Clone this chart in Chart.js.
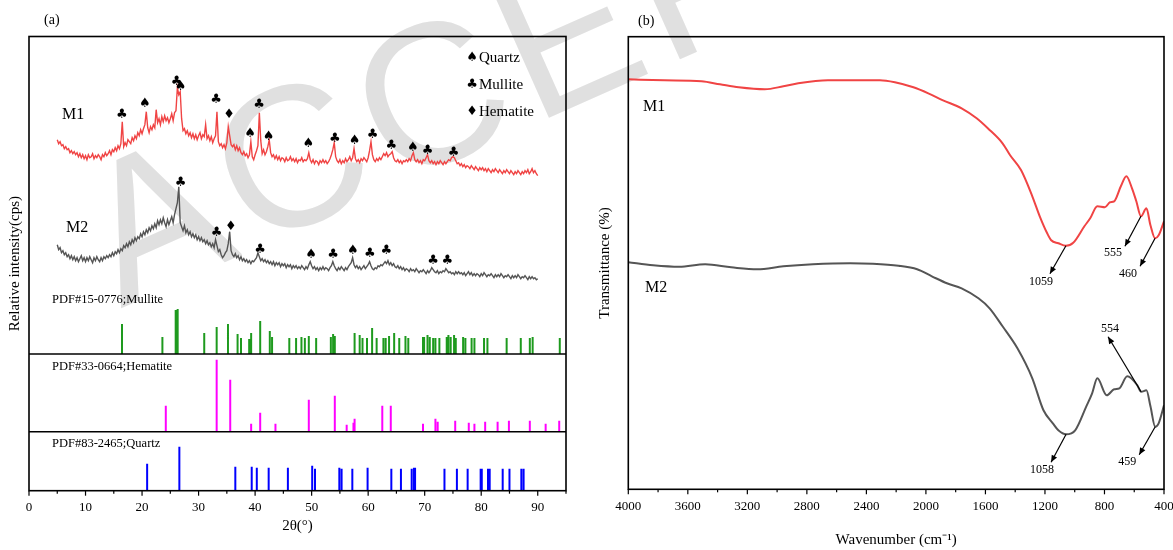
<!DOCTYPE html>
<html lang="en">
<head>
<meta charset="UTF-8" />
<title>XRD and FTIR of M1 / M2</title>
<script src="https://cdn.jsdelivr.net/npm/chart.js"></script>
<style>
  body { margin: 0; background: #fff; }
  #page { position: relative; width: 1173px; height: 550px; overflow: hidden; }
  #stamp {
    position: absolute; left: 52px; top: 154px;
    font: 200px "Liberation Sans", sans-serif; line-height: 1; letter-spacing: 10px;
    color: #e0e0e0; white-space: nowrap;
    transform-origin: 0 0; transform: rotate(-24deg);
  }
  canvas { position: absolute; top: 0; }
  #xrd { left: 0; }
  #ftir { left: 586px; }
</style>
</head>
<body>
<div id="page">
  <div id="stamp">ACCEPTED</div>
  <canvas id="xrd" width="586" height="550"></canvas>
  <canvas id="ftir" width="587" height="550"></canvas>
</div>

<script>
  // ---- XRD patterns, 2θ from 5° to 90° in 0.25° steps ----
  const xrdStart = 5;
  const xrdStep = 0.25;

  const m1Counts = [
    351,347,349,345, 346,342,344,341, 342,338,340,337, 339,336,338,334, 337,333,336,332,
    335,331,336,333, 334,337,332,335, 333,336,334,331, 336,334,338,335, 337,340,336,341,
    339,343,340,345, 342,347,369,344, 348,345,351,349, 347,353,350,355, 352,358,355,361,
    357,362,366,379, 363,358,364,361, 366,363,381,368, 372,366,374,369, 375,370,373,368,
    372,377,370,378, 380,403,396,399, 372,360,362,357, 360,355,358,353, 357,352,356,351,
    355,358,352,356, 354,366,352,355, 350,354,348,352, 355,379,349,345, 347,343,346,342,
    348,364,355,346, 344,346,341,345, 340,343,338,336, 339,335,337,333, 336,349,334,331,
    336,340,345,378, 350,337,341,336, 339,344,351,338, 334,336,332,335, 331,334,330,333,
    332,329,333,330, 331,334,330,332, 329,332,328,331, 330,333,329,331, 330,332,338,331,
    328,331,327,330, 329,326,330,328, 331,328,330,327, 329,332,336,341, 348,334,330,328,
    331,327,330,328, 332,329,331,334, 330,333,342,332, 329,331,328,332, 330,333,331,329,
    333,340,349,336, 331,329,332,330, 333,331,334,337, 335,338,334,336, 337,339,333,330,
    329,331,328,330, 327,330,329,331, 329,332,330,335, 338,331,329,331, 328,330,327,331,
    330,333,336,330, 328,330,327,329, 326,329,327,330, 328,326,329,327, 329,331,330,333,
    334,333,330,327, 328,325,327,324, 326,323,325,324, 322,325,323,321, 324,322,320,323,
    321,323,320,322, 319,322,320,318, 321,319,322,320, 318,321,319,317, 320,318,321,319,
    317,320,318,316, 319,317,320,318, 316,319,317,320, 318,321,317,319, 322,318,320,317,
    315
  ];

  const m2Counts = [
    246,241,243,238, 240,236,238,234, 236,232,235,231, 234,230,233,229, 232,235,230,233,
    229,233,230,234, 231,228,233,230, 234,231,229,233, 230,234,232,235, 233,236,234,238,
    235,239,237,241, 238,242,240,245, 243,247,244,249, 246,251,248,253, 250,254,252,257,
    254,259,256,261, 258,263,260,265, 262,267,263,270, 266,271,267,273, 268,264,271,266,
    270,274,268,276, 282,288,304,268, 264,260,265,258, 261,256,259,254, 257,253,256,251,
    254,250,253,249, 251,247,250,246, 248,244,247,243, 251,245,239,241, 236,233,235,238,
    240,247,259,240, 236,234,237,233, 235,231,234,230, 232,229,231,228, 230,227,230,229,
    231,233,238,234, 230,232,229,231, 228,230,227,229, 226,229,225,228, 226,228,224,227,
    225,227,223,226, 224,226,222,225, 223,225,222,224, 222,225,223,221, 224,222,226,229,
    225,222,224,221, 223,220,223,221, 224,221,223,222, 220,223,225,229, 225,222,220,223,
    221,224,222,220, 223,221,224,226, 228,233,226,223, 225,222,224,221, 223,225,222,224,
    226,229,225,222, 221,223,222,225, 224,226,225,227, 229,227,230,226, 228,225,227,224,
    223,225,222,224, 221,223,220,222, 221,219,222,220, 221,219,222,220, 218,220,219,221,
    219,217,220,218, 220,223,221,219, 218,220,217,219, 218,220,219,222, 220,218,219,217,
    218,216,219,217, 219,217,218,216, 218,215,217,219, 216,218,215,217, 215,217,216,214,
    217,215,218,216, 214,216,215,217, 215,213,216,214, 216,214,217,215, 213,215,214,216,
    214,212,215,213, 215,213,216,214, 212,214,213,215, 213,211,214,212, 214,212,213,211,
    212
  ];

  // phase marks over the peaks: [2θ, height, symbol]
  const m1Marks = [
    [16.4,376,'♣'], [20.5,387,'♠'], [26.1,409,'♣'], [26.8,404,'♠'], [33.1,391,'♣'],
    [35.4,376,'♦'], [39.1,357,'♠'], [40.7,386,'♣'], [42.4,354,'♠'], [49.4,347,'♠'],
    [54.1,352,'♣'], [57.6,350,'♠'], [60.8,356,'♣'], [64.1,345,'♣'], [67.9,343,'♠'],
    [70.5,340,'♣'], [75.1,338,'♣']
  ];
  const m2Marks = [
    [26.8,308,'♣'], [33.2,258,'♣'], [35.7,264,'♦'], [40.9,241,'♣'], [49.9,236,'♠'],
    [53.8,236,'♣'], [57.3,240,'♠'], [60.3,237,'♣'], [63.2,240,'♣'], [71.5,230,'♣'],
    [74.0,230,'♣']
  ];

  // standard cards: [2θ, relative height]
  const mulliteCard = [
    [16.45,30],[23.6,17],[25.95,44],[26.3,45],[31.0,21],[33.2,27],[35.2,30],[36.9,20],
    [37.5,16],[38.95,15],[39.3,21],[40.9,33],[42.6,23],[43.0,17],[46.05,16],[47.25,16],
    [48.2,17],[48.8,16],[49.5,18],[50.8,16],[53.4,17],[53.8,20],[54.1,18],[57.6,21],
    [58.5,19],[59.0,16],[59.8,16],[60.7,26],[61.5,16],[62.7,16],[63.1,16],[63.7,18],
    [64.6,21],[65.5,16],[66.6,18],[67.1,16],[69.7,17],[69.9,17],[70.5,19],[70.9,17],
    [71.5,16],[71.9,16],[72.6,16],[73.9,17],[74.2,19],[74.6,17],[75.2,19],[75.5,16],
    [76.8,17],[77.2,16],[78.3,16],[78.8,16],[80.5,16],[81.1,16],[84.5,16],[87.0,16],
    [88.6,16],[89.1,17],[93.9,16]
  ];
  const hematiteCard = [
    [24.2,26],[33.2,72],[35.6,52],[39.3,8],[40.9,19],[43.6,8],[49.5,32],[54.1,36],
    [56.2,7],[57.4,9],[57.6,13],[62.5,26],[64.0,26],[69.7,8],[71.9,13],[72.3,10],
    [75.4,11],[77.8,9],[78.8,8],[80.7,10],[82.9,10],[84.9,11],[88.6,11],[91.4,8],[93.8,11]
  ];
  const quartzCard = [
    [20.9,27],[26.6,44],[36.5,24],[39.4,24],[40.3,23],[42.4,23],[45.8,23],[50.1,25],
    [50.6,22],[54.9,23],[55.3,22],[57.2,22],[59.9,23],[64.1,22],[65.8,22],[67.7,22],
    [68.1,23],[68.3,23],[73.5,22],[75.7,22],[77.6,22],[79.9,22],[80.1,22],[81.2,22],
    [81.5,22],[83.8,22],[85.0,22],[87.1,22],[87.5,22]
  ];
  // baselines of the three card strips
  const mulliteBase = 136.7;
  const hematiteBase = 59;
  const quartzBase = 0;

  // ---- FTIR spectra: [wavenumber, transmittance] ----
  const ftirM1 = [
    [4000,410],[3758,409],[3508,408],[3384,405],[3258,402],[3083,400],[2958,403],[2858,406],
    [2658,409],[2509,409],[2309,409],[2209,407],[2084,402],[1984,396],[1885,389],[1760,381],
    [1659,371],[1584,361],[1485,346],[1434,334],[1360,319],[1285,293],[1235,273],[1185,256],
    [1158,249],[1110,246],[1059,243.5],[1010,246.5],[935,263],[896,271],[848,283],[797,282],
    [763,287],[735,288],[690,303],[653,313],[615,301],[586,288],[555,273],[518,281],[491,264],
    [460,251],[436,254],[400,268]
  ];
  const ftirM2 = [
    [4000,227],[3833,224],[3658,222.5],[3483,225],[3308,222],[3133,220],[2958,223],[2759,225],
    [2509,226],[2359,225.5],[2184,223.5],[2059,220],[1960,213],[1859,206],[1760,201],[1647,191],
    [1572,181],[1485,163],[1385,141],[1285,111],[1210,79],[1147,66],[1110,59],[1058,55],
    [997,59],[922,83],[883,96],[848,111],[785,94],[735,100],[700,101],[647,113],[579,104],
    [554,97.5],[518,99],[491,83],[459,62.5],[436,66],[400,84]
  ];
  const bandsM1 = [1059, 555, 460];
  const bandsM2 = [1058, 554, 459];

  const serif = '"Liberation Serif", "Times New Roman", serif';
  const symbolFont = '13px "DejaVu Sans", sans-serif';

  function pattern(counts) {
    return counts.map((v, i) => ({ x: xrdStart + i * xrdStep, y: v }));
  }

  function sticks(card, base) {
    const pts = [];
    card.forEach(([pos, h]) => {
      pts.push({ x: pos, y: base }, { x: pos, y: base + h }, { x: pos, y: null });
    });
    return pts;
  }

  function line(ctx, x1, y1, x2, y2) {
    ctx.beginPath();
    ctx.moveTo(x1, y1);
    ctx.lineTo(x2, y2);
    ctx.stroke();
  }

  function text(ctx, str, x, y, size, align) {
    ctx.font = size + 'px ' + serif;
    ctx.textAlign = align || 'left';
    ctx.textBaseline = 'middle';
    ctx.fillText(str, x, y);
  }

  // box round the plot and outward ticks, major every `major`, minor halfway
  function frameAndTicks(chart, major) {
    const { ctx, chartArea: a, scales: { x } } = chart;
    ctx.strokeStyle = '#000';
    ctx.lineWidth = 1.6;
    ctx.strokeRect(a.left, a.top, a.right - a.left, a.bottom - a.top);
    ctx.lineWidth = 1.2;
    const half = major / 2;
    for (let t = x.min; t <= x.max + 1e-6; t += half) {
      const px = x.getPixelForValue(t);
      const isMajor = Math.abs(t % major) < 1e-6;
      line(ctx, px, a.bottom, px, a.bottom + (isMajor ? 5 : 3));
    }
  }

  const xrdDecor = {
    id: 'xrdDecor',
    afterDatasetsDraw(chart) {
      const { ctx, chartArea: a, scales: { x, y } } = chart;
      ctx.save();
      frameAndTicks(chart, 10);
      ctx.lineWidth = 1.6;
      [mulliteBase, hematiteBase].forEach(v => {
        const py = y.getPixelForValue(v);
        line(ctx, a.left, py, a.right, py);
      });

      ctx.fillStyle = '#000';
      ctx.font = symbolFont;
      ctx.textAlign = 'center';
      ctx.textBaseline = 'middle';
      m1Marks.concat(m2Marks).forEach(([t, v, s]) => {
        ctx.fillText(s, x.getPixelForValue(t), y.getPixelForValue(v));
      });

      text(ctx, '(a)', 44, 20, 14);
      text(ctx, 'M1', 62, 115, 16);
      text(ctx, 'M2', 66, 228, 16);
      text(ctx, 'PDF#15-0776;Mullite', 52, 300, 12.5);
      text(ctx, 'PDF#33-0664;Hematite', 52, 367, 12.5);
      text(ctx, 'PDF#83-2465;Quartz', 52, 444, 12.5);

      // phase key
      [['♠', 'Quartz', 58], ['♣', 'Mullite', 85], ['♦', 'Hematite', 112]].forEach(([s, name, py]) => {
        ctx.font = symbolFont;
        ctx.textAlign = 'center';
        ctx.fillText(s, 472, py);
        text(ctx, name, 479, py, 15);
      });
      ctx.restore();
    }
  };

  function arrow(ctx, x1, y1, x2, y2) {
    line(ctx, x1, y1, x2, y2);
    const ang = Math.atan2(y2 - y1, x2 - x1);
    const len = 7, wid = 3;
    ctx.beginPath();
    ctx.moveTo(x2, y2);
    ctx.lineTo(x2 - len * Math.cos(ang) + wid * Math.sin(ang), y2 - len * Math.sin(ang) - wid * Math.cos(ang));
    ctx.lineTo(x2 - len * Math.cos(ang) - wid * Math.sin(ang), y2 - len * Math.sin(ang) + wid * Math.cos(ang));
    ctx.closePath();
    ctx.fill();
  }

  // arrow offsets (px) from the band position to the label
  const bandLayout = [
    { dx: -16, dy: 28, lx: -9, ly: 8 },
    { dx: -16, dy: 30, lx: -12, ly: 7 },
    { dx: -15, dy: 28, lx: -12, ly: 8 }
  ];
  const bandLayoutM2 = [
    { dx: -15, dy: 28, lx: -9, ly: 8 },
    { dx: -33, dy: -55, lx: 2, ly: -8 },
    { dx: -16, dy: 28, lx: -12, ly: 7 }
  ];

  const ftirDecor = {
    id: 'ftirDecor',
    afterDatasetsDraw(chart) {
      const { ctx, scales: { x, y } } = chart;
      ctx.save();
      frameAndTicks(chart, 400);
      ctx.fillStyle = '#000';
      ctx.strokeStyle = '#000';
      text(ctx, '(b)', 52, 21, 14);
      text(ctx, 'M1', 57, 107, 16);
      text(ctx, 'M2', 59, 288, 16);

      const mark = (series, bands, layout) => {
        bands.forEach((wn, i) => {
          const pt = series.find(p => p[0] === wn);
          const px = x.getPixelForValue(wn), py = y.getPixelForValue(pt[1]);
          const L = layout[i];
          ctx.lineWidth = 1.2;
          arrow(ctx, px, py, px + L.dx, py + L.dy);
          text(ctx, String(wn), px + L.dx + L.lx, py + L.dy + L.ly, 12, 'center');
        });
      };
      mark(ftirM1, bandsM1, bandLayout);
      mark(ftirM2, bandsM2, bandLayoutM2);
      ctx.restore();
    }
  };

  const tickFont = { family: serif, size: 13 };
  const titleFont = { family: serif, size: 15 };

  new Chart(document.getElementById('xrd'), {
    type: 'line',
    data: {
      datasets: [
        { data: sticks(mulliteCard, mulliteBase), borderColor: '#1e9a1e', borderWidth: 2 },
        { data: sticks(hematiteCard, hematiteBase), borderColor: '#ff00ff', borderWidth: 2 },
        { data: sticks(quartzCard, quartzBase), borderColor: '#0000ff', borderWidth: 2 },
        { data: pattern(m1Counts), borderColor: '#f04444', borderWidth: 1.4 },
        { data: pattern(m2Counts), borderColor: '#555555', borderWidth: 1.4 }
      ]
    },
    options: {
      responsive: false,
      animation: false,
      events: [],
      elements: { point: { radius: 0 }, line: { tension: 0 } },
      layout: { padding: { left: 0, right: 20, top: 36.5, bottom: 0 } },
      plugins: { legend: { display: false }, tooltip: { enabled: false } },
      scales: {
        x: {
          type: 'linear', min: 0, max: 95,
          grid: { display: false, drawTicks: false },
          border: { display: false },
          ticks: { stepSize: 10, includeBounds: false, padding: 9, color: '#000', font: tickFont },
          title: { display: true, text: '2θ(°)', color: '#000', font: titleFont, padding: { bottom: 15 } },
          afterFit: s => { s.height = 59.3; s.paddingLeft = 0; s.paddingRight = 0; }
        },
        y: {
          min: 0, max: 454.2,
          grid: { display: false },
          border: { display: false },
          ticks: { display: false },
          title: { display: true, text: 'Relative intensity(cps)', color: '#000', font: titleFont, padding: { top: 6 } },
          afterFit: s => { s.width = 29; }
        }
      }
    },
    plugins: [xrdDecor]
  });

  new Chart(document.getElementById('ftir'), {
    type: 'line',
    data: {
      datasets: [
        { data: ftirM1.map(([x, y]) => ({ x, y })), borderColor: '#f04444', borderWidth: 2 },
        { data: ftirM2.map(([x, y]) => ({ x, y })), borderColor: '#555555', borderWidth: 2 }
      ]
    },
    options: {
      responsive: false,
      animation: false,
      events: [],
      elements: { point: { radius: 0 }, line: { cubicInterpolationMode: 'monotone' } },
      layout: { padding: { left: 0, right: 9, top: 36.7, bottom: 0 } },
      plugins: { legend: { display: false }, tooltip: { enabled: false } },
      scales: {
        x: {
          type: 'linear', min: 400, max: 4000, reverse: true,
          grid: { display: false, drawTicks: false },
          border: { display: false },
          ticks: { stepSize: 400, padding: 9, color: '#000', font: tickFont, callback: v => String(v) },
          title: { display: true, text: 'Wavenumber (cm⁻¹)', color: '#000', font: titleFont, padding: { bottom: 1 } },
          afterFit: s => { s.height = 60.7; s.paddingLeft = 0; s.paddingRight = 0; }
        },
        y: {
          min: 0, max: 452.6,
          grid: { display: false },
          border: { display: false },
          ticks: { display: false },
          title: { display: true, text: 'Transmittance (%)', color: '#000', font: titleFont, padding: { top: 10 } },
          afterFit: s => { s.width = 42.3; }
        }
      }
    },
    plugins: [ftirDecor]
  });
</script>
</body>
</html>
